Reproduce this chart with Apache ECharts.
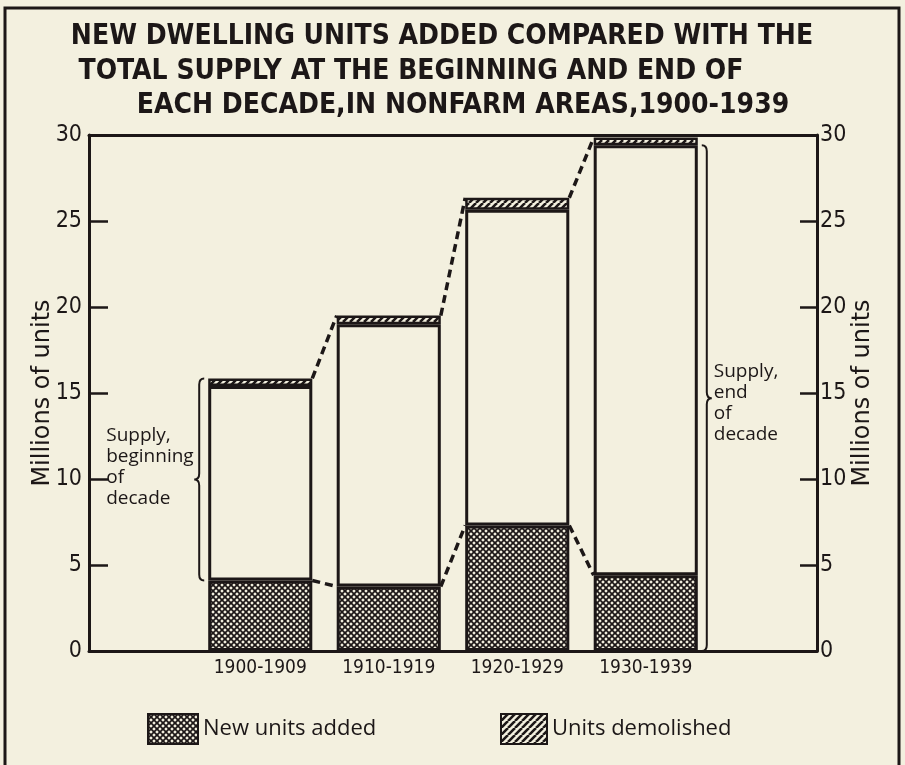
<!DOCTYPE html>
<html><head><meta charset="utf-8">
<script src="https://cdn.jsdelivr.net/npm/echarts@6/dist/echarts.min.js"></script>
<style>html,body{margin:0;padding:0;background:#f3f0df;} #c{width:905px;height:765px;}</style>
</head><body><div id="c"></div>
<script>
// ---- data (millions of nonfarm dwelling units) ----
const decades = ['1900-1909', '1910-1919', '1920-1929', '1930-1939'];
const newUnits = [4.1, 3.75, 7.3, 4.4];          // crosshatched segment
const supplyEnd = [15.4, 19.0, 25.65, 29.4];      // top of white segment
const demolished = [0.45, 0.5, 0.7, 0.45];        // hatched segment on top
const titleLines = [
  'NEW DWELLING UNITS ADDED COMPARED WITH THE',
  'TOTAL SUPPLY AT THE BEGINNING AND END OF',
  'EACH DECADE,IN NONFARM AREAS,1900-1939'
];
const legendNames = ['New units added', 'Units demolished'];
const braceTexts = ['Supply,\nbeginning\nof\ndecade', 'Supply,\nend\nof\ndecade'];

// ---- derived ----
const whitePart = supplyEnd.map((v, i) => +(v - newUnits[i]).toFixed(3));
const totals = supplyEnd.map((v, i) => +(v + demolished[i]).toFixed(3));

const BG = '#f3f0df';
const INK = '#1c1717';
const HALF = 0.405; // half bar width in category units
const NARROW = "'DejaVu Sans Condensed', sans-serif";
const HAND = "'Open Sans', 'DejaVu Sans', sans-serif";

function crossPattern() {
  const s = 6, c = document.createElement('canvas');
  c.width = s; c.height = s;
  const g = c.getContext('2d');
  g.fillStyle = BG; g.fillRect(0, 0, s, s);
  g.strokeStyle = INK; g.lineWidth = 1.7;
  g.beginPath();
  for (let k = -1; k <= 1; k++) {
    g.moveTo(k * s, 0); g.lineTo(k * s + s, s);
    g.moveTo(k * s + s, 0); g.lineTo(k * s, s);
  }
  g.stroke();
  return c;
}
function hatchPattern() {
  const s = 7, c = document.createElement('canvas');
  c.width = s; c.height = s;
  const g = c.getContext('2d');
  g.fillStyle = BG; g.fillRect(0, 0, s, s);
  g.strokeStyle = INK; g.lineWidth = 2.6;
  g.beginPath();
  for (let k = -1; k <= 1; k++) {
    g.moveTo(k * s, s); g.lineTo(k * s + s, 0);
  }
  g.stroke();
  return c;
}
const crossFill = { image: crossPattern(), repeat: 'repeat' };
const hatchFill = { image: hatchPattern(), repeat: 'repeat' };

const connectorData = [];
for (let i = 0; i < decades.length - 1; i++) {
  connectorData.push([i, totals[i], totals[i + 1]]);
  connectorData.push([i, newUnits[i], newUnits[i + 1]]);
}
const braceData = [
  [0, newUnits[0], totals[0], -1, 0],
  [decades.length - 1, 0, supplyEnd[decades.length - 1], 1, 1]
];

const chart = echarts.init(document.getElementById('c'), null, { renderer: 'canvas' });

const yAxisCommon = {
  type: 'value', min: 0, max: 30, interval: 5, gridIndex: 0,
  axisLine: { show: true, onZero: false, lineStyle: { color: INK, width: 3 } },
  axisTick: { show: true, inside: true, length: 19, lineStyle: { color: INK, width: 2.5 } },
  axisLabel: { color: INK, fontSize: 23, fontFamily: NARROW },
  splitLine: { show: false },
  name: 'Millions of units', nameLocation: 'middle', nameMoveOverlap: false,
  nameTextStyle: { color: INK, fontSize: 24, fontFamily: "'DejaVu Sans', sans-serif" }
};
const frameX = {
  type: 'value', min: 0, max: 1, gridIndex: 0,
  axisLine: { show: true, onZero: false, lineStyle: { color: INK, width: 3 } },
  axisTick: { show: false }, axisLabel: { show: false }, splitLine: { show: false }
};
const titleFont = 'bold 28px ' + NARROW;

const option = {
  backgroundColor: BG,
  animation: false,
  grid: [
    { left: 89, right: 88, top: 135, bottom: 114 },
    { left: 196, right: 195, top: 135, bottom: 114 }
  ],
  xAxis: [
    Object.assign({}, frameX, { position: 'bottom' }),
    Object.assign({}, frameX, { position: 'top' }),
    {
      type: 'category', gridIndex: 1, data: decades,
      axisLine: { show: false }, axisTick: { show: false },
      axisLabel: { color: INK, fontSize: 19, fontFamily: NARROW, margin: 8, interval: 0 }
    },
    { type: 'value', gridIndex: 1, min: -0.5, max: 3.5, show: false }
  ],
  yAxis: [
    Object.assign({}, yAxisCommon, { position: 'left', nameGap: 34,
      axisLabel: Object.assign({}, yAxisCommon.axisLabel, { margin: 7 }) }),
    Object.assign({}, yAxisCommon, { position: 'right', nameGap: 34,
      axisTick: Object.assign({}, yAxisCommon.axisTick, { length: 17 }),
      axisLabel: Object.assign({}, yAxisCommon.axisLabel, { margin: 3 }) }),
    { type: 'value', gridIndex: 1, min: 0, max: 30, show: false }
  ],
  legend: [
    {
      data: [legendNames[0]], left: 147, top: 713, padding: 0, icon: 'rect',
      itemWidth: 50, itemHeight: 30, selectedMode: false,
      textStyle: { color: INK, fontSize: 22, fontFamily: HAND }
    },
    {
      data: [legendNames[1]], left: 500, top: 713, padding: 0, icon: 'rect',
      itemWidth: 46, itemHeight: 30, selectedMode: false,
      textStyle: { color: INK, fontSize: 22, fontFamily: HAND }
    }
  ],
  graphic: [
    {
      type: 'polyline', silent: true,
      shape: { points: [[5, 770], [5, 8], [899, 8], [899, 770]] },
      style: { stroke: INK, lineWidth: 3, fill: null }
    },
    {
      type: 'text', x: 442, y: 37, silent: true,
      style: { text: titleLines[0], fill: INK, font: titleFont, align: 'center', verticalAlign: 'middle' }
    },
    {
      type: 'text', x: 411, y: 72, silent: true,
      style: { text: titleLines[1], fill: INK, font: titleFont, align: 'center', verticalAlign: 'middle' }
    },
    {
      type: 'text', x: 463, y: 106, silent: true,
      style: { text: titleLines[2], fill: INK, font: titleFont, align: 'center', verticalAlign: 'middle' }
    }
  ],
  series: [
    {
      type: 'bar', name: legendNames[0], xAxisIndex: 2, yAxisIndex: 2, stack: 's',
      data: newUnits, barWidth: (HALF * 200) + '%',
      itemStyle: { color: crossFill, borderColor: INK, borderWidth: 3 }
    },
    {
      type: 'bar', name: 'Supply', xAxisIndex: 2, yAxisIndex: 2, stack: 's',
      data: whitePart,
      itemStyle: { color: BG, borderColor: INK, borderWidth: 3 }
    },
    {
      type: 'bar', name: legendNames[1], xAxisIndex: 2, yAxisIndex: 2, stack: 's',
      data: demolished,
      itemStyle: { color: hatchFill, borderColor: INK, borderWidth: 2.5 }
    },
    {
      type: 'custom', name: 'connectors', xAxisIndex: 3, yAxisIndex: 2, silent: true, z: 5,
      data: connectorData,
      renderItem: function (params, api) {
        const i = api.value(0);
        const a = api.coord([i + HALF, api.value(1)]);
        const b = api.coord([i + 1 - HALF, api.value(2)]);
        return {
          type: 'line',
          shape: { x1: a[0], y1: a[1], x2: b[0], y2: b[1] },
          style: { stroke: INK, lineWidth: 3.5, lineDash: [8, 5], fill: null }
        };
      }
    },
    {
      type: 'custom', name: 'braces', xAxisIndex: 3, yAxisIndex: 2, silent: true, z: 5,
      data: braceData,
      renderItem: function (params, api) {
        const i = api.value(0), lo = api.value(1), hi = api.value(2), side = api.value(3), ti = api.value(4);
        const pLo = api.coord([i + side * HALF, lo]);
        const pHi = api.coord([i + side * HALF, hi]);
        const xs = pLo[0] + side * 9;
        const xe = xs - side * 5;
        const xt = xs + side * 5;
        const y1 = pHi[1], y2 = pLo[1], ym = (y1 + y2) / 2, r = 6;
        const d = 'M' + xe + ' ' + y1 + ' Q' + xs + ' ' + y1 + ' ' + xs + ' ' + (y1 + r) +
          ' L' + xs + ' ' + (ym - r) + ' Q' + xs + ' ' + ym + ' ' + xt + ' ' + ym +
          ' Q' + xs + ' ' + ym + ' ' + xs + ' ' + (ym + r) +
          ' L' + xs + ' ' + (y2 - r) + ' Q' + xs + ' ' + y2 + ' ' + xe + ' ' + y2;
        const tx = side < 0 ? xt - 88 : xt + 2;
        const ty = side < 0 ? ym - 12 : ym + 5;
        return {
          type: 'group',
          children: [
            { type: 'path', shape: { pathData: d }, style: { stroke: INK, lineWidth: 2, fill: null } },
            {
              type: 'text', x: tx, y: ty,
              style: {
                text: braceTexts[ti], fill: INK, fontSize: 19, fontFamily: HAND,
                align: 'left', verticalAlign: 'middle', lineHeight: 21
              }
            }
          ]
        };
      }
    }
  ]
};
chart.setOption(option);
</script>
</body></html>
